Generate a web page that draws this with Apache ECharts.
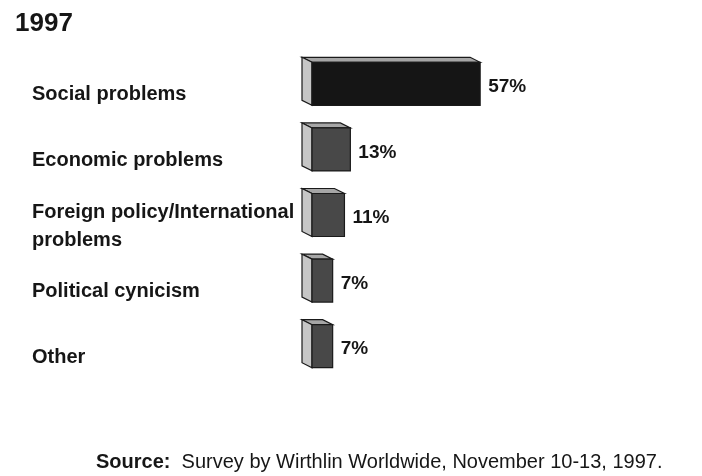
<!DOCTYPE html>
<html>
<head>
<meta charset="utf-8">
<script src="https://cdn.jsdelivr.net/npm/echarts@6/dist/echarts.min.js"></script>
<style>
html,body{margin:0;padding:0;background:#fff;}
#chart{width:702px;height:476px;}
</style>
</head>
<body>
<div id="chart"></div>
<script>
const titleText = '1997';
const categories = ['Social problems', 'Economic problems', 'Foreign policy/International\nproblems', 'Political cynicism', 'Other'];
const values = [57, 13, 11, 7, 7];
const valueLabels = ['57%', '13%', '11%', '7%', '7%'];
const sourceBold = 'Source:';
const sourceText = 'Survey by Wirthlin Worldwide, November 10-13, 1997.';

const FONT = '"Liberation Sans", Arial, Helvetica, sans-serif';
const TEXT = '#161616';

const chart = echarts.init(document.getElementById('chart'), null, {renderer: 'canvas'});

const seriesData = values.map((v, i) => [v, i, valueLabels[i]]);

function renderBar(params, api) {
  const v = api.value(0);
  const i = api.value(1);
  const p0 = api.coord([0, i]);
  const p1 = api.coord([v, i]);
  const band = api.size([0, 1])[1];
  const h = band * 0.655;
  const dx = 10, dy = 5;
  const x0 = p0[0], x1 = p1[0];
  const yT = p0[1] - h / 2, yB = p0[1] + h / 2;
  const front = params.dataIndex === 0 ? '#151515' : '#484848';
  const stroke = '#1a1a1a';
  return {
    type: 'group',
    children: [
      {
        type: 'polygon',
        shape: {points: [[x0, yT], [x0 - dx, yT - dy], [x1 - dx, yT - dy], [x1, yT]]},
        style: {fill: '#a6a6a6', stroke: stroke, lineWidth: 1.2}
      },
      {
        type: 'polygon',
        shape: {points: [[x0, yT], [x0 - dx, yT - dy], [x0 - dx, yB - dy], [x0, yB]]},
        style: {fill: '#c6c6c6', stroke: stroke, lineWidth: 1.2}
      },
      {
        type: 'rect',
        shape: {x: x0, y: yT, width: x1 - x0, height: h},
        style: {fill: front, stroke: stroke, lineWidth: 1.2}
      },
      {
        type: 'text',
        x: x1 + 8,
        y: p0[1] + 3,
        style: {
          text: api.value(2),
          font: 'bold 19px ' + FONT,
          fill: TEXT,
          align: 'left',
          verticalAlign: 'middle'
        }
      }
    ]
  };
}

chart.setOption({
  animation: false,
  backgroundColor: '#ffffff',
  title: {
    text: titleText,
    left: 10,
    top: 6,
    textStyle: {fontFamily: FONT, fontSize: 26, fontWeight: 'bold', color: TEXT}
  },
  grid: {left: 312, top: 51, width: 295, height: 328, containLabel: false},
  xAxis: {type: 'value', min: 0, max: 100, show: false},
  yAxis: {
    type: 'category',
    data: categories,
    inverse: true,
    axisLine: {show: false},
    axisTick: {show: false},
    splitLine: {show: false},
    axisLabel: {
      align: 'left',
      margin: 280,
      formatter: function (val) {
        return '{s| }\n' + val.split('\n').map(function (l) { return '{t|' + l + '}'; }).join('\n');
      },
      rich: {
        s: {fontSize: 1, lineHeight: 22},
        t: {fontFamily: FONT, fontSize: 20, fontWeight: 'bold', color: TEXT, lineHeight: 28}
      }
    }
  },
  series: [{
    type: 'custom',
    renderItem: renderBar,
    encode: {x: 0, y: 1},
    data: seriesData,
    clip: false
  }],
  graphic: [{
    type: 'text',
    left: 96,
    top: 452,
    style: {
      text: '{b|' + sourceBold + '}  ' + sourceText,
      font: '20px ' + FONT,
      fill: TEXT,
      rich: {b: {fontFamily: FONT, fontSize: 20, fontWeight: 'bold', fill: TEXT}}
    }
  }]
});
</script>
</body>
</html>
